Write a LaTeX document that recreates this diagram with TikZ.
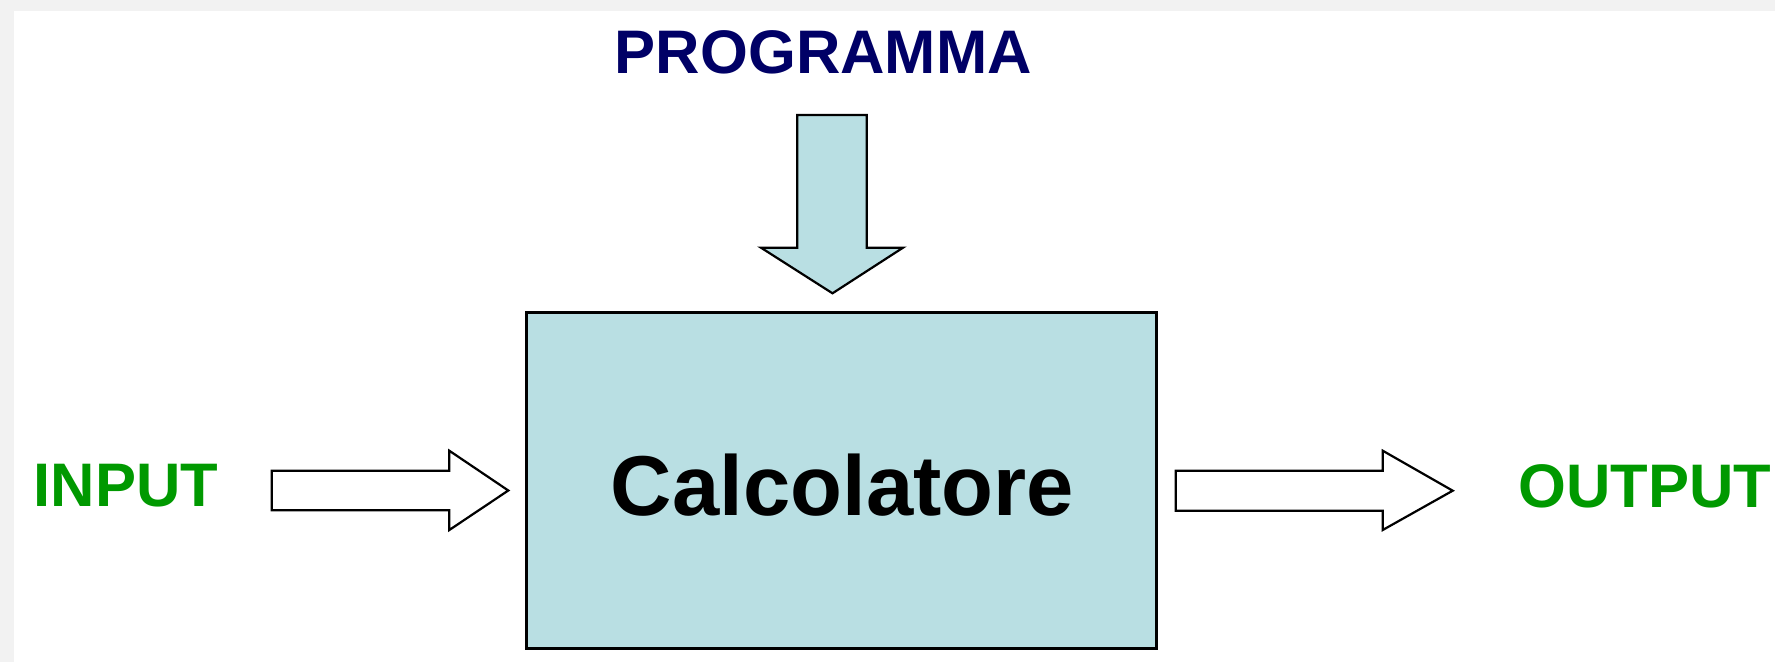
\documentclass[tikz,border=0pt]{standalone}
\usepackage{fontspec}
\setmainfont{Liberation Sans}
\definecolor{boxfill}{HTML}{B9DFE3}
\definecolor{navy}{HTML}{000066}
\definecolor{ledgreen}{HTML}{009900}
\begin{document}
\begin{tikzpicture}[x=1pt, y=-1pt,
        label/.style={inner sep=0pt, anchor=base, font=\bfseries\fontsize{61.5}{70}\selectfont},
        blockarrow/.style={draw=black, line width=2.2pt, line join=miter}]
    \useasboundingbox (0,0) rectangle (1775,662);
    \fill[black!5] (0,0) rectangle (1775,662);
    \fill[white] (14,11) rectangle (1775,662);
    \node[draw, line width=3pt, fill=boxfill, minimum width=630pt, minimum height=335.6pt, inner sep=0pt]
        (calc) at (841.7,480.5) {};
    \node[inner sep=0pt, anchor=base, font=\bfseries\fontsize{85}{95}\selectfont] (calctext) at (842.4,515) {Calcolatore};
    \node[label, text=navy] (prog) at (823.3,73.3) {PROGRAMMA};
    \node[label, text=ledgreen] (in) at (125.8,506.7) {INPUT};
    \node[label, text=ledgreen] (out) at (1644.8,507) {OUTPUT};
    % programma -> calcolatore
    \draw[blockarrow, fill=boxfill] (797.3,115) -- (866.7,115) -- (866.7,247.7) -- (903,247.7)
        -- (832.5,293.3) -- (761,247.7) -- (797.3,247.7) -- cycle;
    % input -> calcolatore
    \draw[blockarrow, fill=white] (271.7,470.7) -- (449.3,470.7) -- (449.3,450.7) -- (508.3,490.5)
        -- (449.3,530) -- (449.3,510.3) -- (271.7,510.3) -- cycle;
    % calcolatore -> output
    \draw[blockarrow, fill=white] (1175.7,470.7) -- (1382.7,470.7) -- (1382.7,450.7) -- (1452.7,490.7)
        -- (1382.7,530) -- (1382.7,510.7) -- (1175.7,510.7) -- cycle;
\end{tikzpicture}
\end{document}
